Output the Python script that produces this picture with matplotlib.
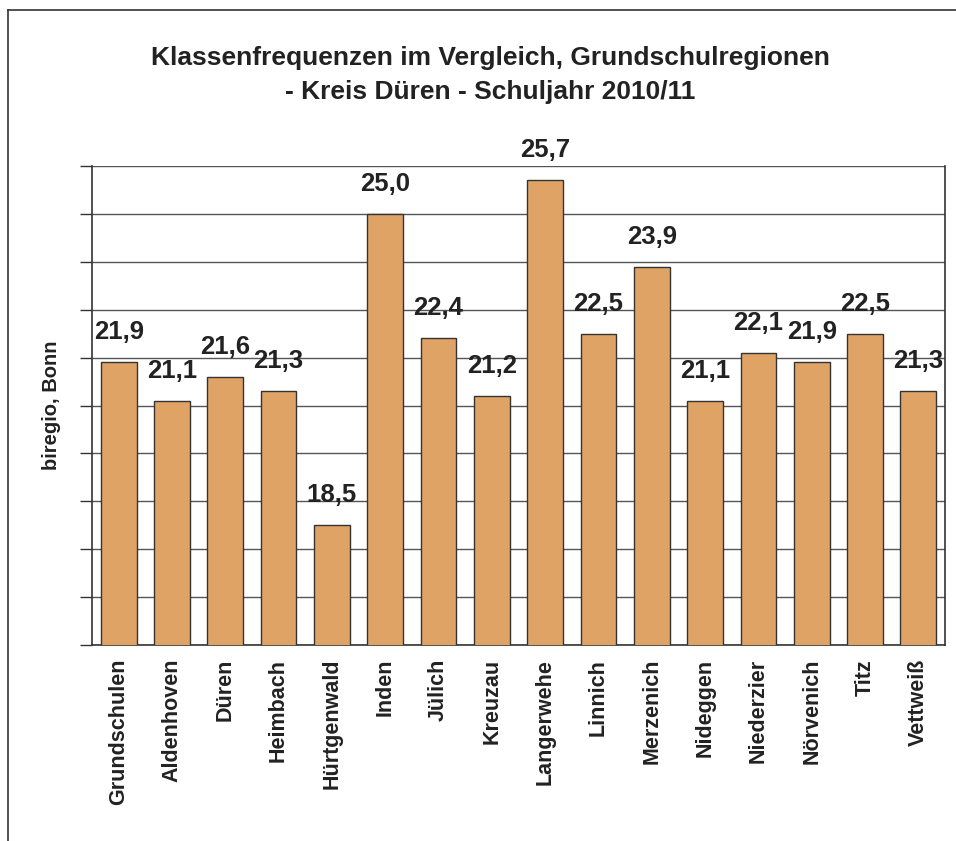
import matplotlib.pyplot as plt
from matplotlib.lines import Line2D

regions = ['Grundschulen', 'Aldenhoven', 'Düren', 'Heimbach', 'Hürtgenwald',
           'Inden', 'Jülich', 'Kreuzau', 'Langerwehe', 'Linnich', 'Merzenich',
           'Nideggen', 'Niederzier', 'Nörvenich', 'Titz', 'Vettweiß']
freq = [21.9, 21.1, 21.6, 21.3, 18.5, 25.0, 22.4, 21.2, 25.7, 22.5, 23.9,
        21.1, 22.1, 21.9, 22.5, 21.3]
yticks = list(range(16, 27))

plt.rcParams['font.family'] = ['Liberation Sans', 'DejaVu Sans']
plt.rcParams['font.weight'] = 'bold'

fig = plt.figure(figsize=(9.56, 8.41), dpi=100)
ax = fig.add_axes([92 / 956, 1 - 645 / 841, (945 - 92) / 956, (645 - 166) / 841])

x = range(len(regions))
ax.bar(x, freq, width=0.67, color='#DFA366', edgecolor='#333333',
       linewidth=1, zorder=3)

for i, v in enumerate(freq):
    ax.annotate(('%.1f' % v).replace('.', ','), (i, v), xytext=(0, 13),
                textcoords='offset points', ha='center', va='bottom',
                fontsize=18.5, fontweight='bold', color='#222222',
                annotation_clip=False)

ax.set_xlim(-0.5, len(regions) - 0.5)
ax.set_ylim(16, 26)
ax.set_yticks(yticks)
ax.set_yticklabels([])
ax.tick_params(axis='y', direction='out', length=9, width=1, color='#333333')
ax.yaxis.grid(True, color='#555555', linewidth=1, zorder=0)
ax.set_xticks(list(x))
ax.set_xticklabels(regions, rotation=90, fontsize=15.5, fontweight='bold',
                   color='#222222', va='top', ha='center')
ax.tick_params(axis='x', length=0, pad=10)
ax.spines['top'].set_visible(False)
for s in ['left', 'right', 'bottom']:
    ax.spines[s].set_color('#333333')
    ax.spines[s].set_linewidth(1.2)

ax.set_ylabel('biregio, Bonn', fontsize=14.5, fontweight='bold',
              color='#222222', labelpad=10)

fig.text(490 / 956, 1 - 58 / 841,
         'Klassenfrequenzen im Vergleich, Grundschulregionen',
         ha='center', va='center', fontsize=19, fontweight='bold',
         color='#222222')
fig.text(490 / 956, 1 - 92 / 841, '- Kreis Düren - Schuljahr 2010/11',
         ha='center', va='center', fontsize=19, fontweight='bold',
         color='#222222')

# outer frame, only top and left visible in the crop
fig.add_artist(Line2D([8 / 956, 8 / 956], [0, 1 - 10 / 841],
                      color='#333333', linewidth=1.2))
fig.add_artist(Line2D([8 / 956, 1], [1 - 10 / 841, 1 - 10 / 841],
                      color='#333333', linewidth=1.2))

fig.savefig('out.png', dpi=100)
